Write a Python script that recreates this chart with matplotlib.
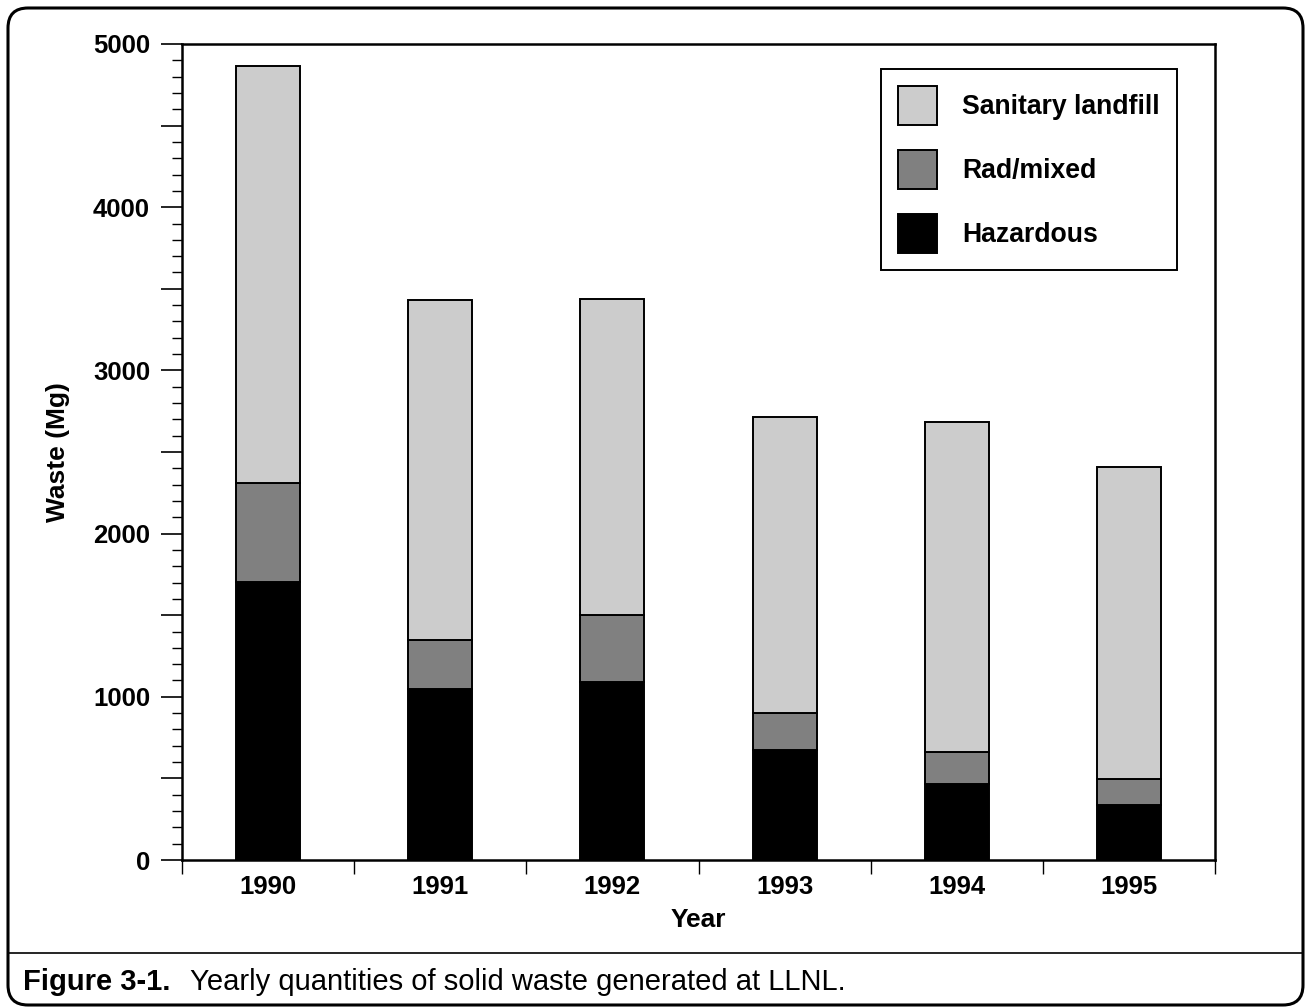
import numpy as np
import matplotlib
matplotlib.use("Agg")
import matplotlib.pyplot as plt
from matplotlib.patches import FancyBboxPatch, Patch
from matplotlib.ticker import FixedLocator, MultipleLocator

plt.rcParams['font.family'] = ['Liberation Sans', 'DejaVu Sans']

# data (Mg)
years = ['1990', '1991', '1992', '1993', '1994', '1995']
hazardous = [1705, 1045, 1090, 675, 465, 335]
rad_mixed = [605, 305, 410, 225, 195, 160]
sanitary = [2555, 2080, 1940, 1815, 2025, 1915]

W, H = 1311, 1007
fig = plt.figure(figsize=(W / 100, H / 100), dpi=100)

# background frame in pixel units
bg = fig.add_axes([0, 0, 1, 1])
bg.set_xlim(0, W)
bg.set_ylim(H, 0)
bg.axis('off')
bg.add_patch(FancyBboxPatch((8, 8), W - 16, H - 10,
                            boxstyle="round,pad=0,rounding_size=20",
                            fc='white', ec='black', lw=2.2))
bg.plot([8, W - 8], [953, 953], color='black', lw=1.2)

ax = fig.add_axes([182 / W, 1 - 860 / H, (1215 - 182) / W, (860 - 44) / H])
ax.set_facecolor('none')

x = np.arange(len(years))
bw = 0.372
haz = np.array(hazardous)
rad = np.array(rad_mixed)
san = np.array(sanitary)
ax.bar(x, haz, bw, color='black', edgecolor='black', lw=1.4)
ax.bar(x, rad, bw, bottom=haz, color='#808080', edgecolor='black', lw=1.4)
ax.bar(x, san, bw, bottom=haz + rad, color='#cccccc', edgecolor='black', lw=1.4)

ax.set_xlim(-0.5, len(years) - 0.5)
ax.set_ylim(0, 5000)

for s in ax.spines.values():
    s.set_linewidth(1.8)

# x ticks: labels at centres, tick marks at boundaries
ax.set_xticks(x)
ax.set_xticklabels(years, fontsize=18.5, fontweight='bold')
ax.xaxis.set_minor_locator(FixedLocator(np.arange(-0.5, len(years), 1.0)))
ax.tick_params(axis='x', which='major', length=0, pad=11)
ax.tick_params(axis='x', which='minor', length=10, width=1, direction='out')

# y ticks
ymaj = np.arange(0, 5001, 500)
ax.yaxis.set_major_locator(FixedLocator(ymaj))
ax.set_yticklabels([str(v) if v % 1000 == 0 else '' for v in ymaj],
                   fontsize=18.5, fontweight='bold')
ax.yaxis.set_minor_locator(MultipleLocator(100))
ax.tick_params(axis='y', which='major', length=15, width=1.2, pad=8)
ax.tick_params(axis='y', which='minor', length=7.5, width=1)

ax.set_ylabel('Waste (Mg)', fontsize=19, fontweight='bold')
ax.yaxis.set_label_coords(-0.108, 0.5)
ax.set_xlabel('Year', fontsize=19, fontweight='bold')
ax.xaxis.set_label_coords(0.5, -0.0588)

handles = [Patch(fc='#cccccc', ec='black', lw=1.4, label='Sanitary landfill'),
           Patch(fc='#808080', ec='black', lw=1.4, label='Rad/mixed'),
           Patch(fc='black', ec='black', lw=1.4, label='Hazardous')]
leg = ax.legend(handles=handles, loc='upper right',
                bbox_to_anchor=(1177 / W, 1 - 69 / H), bbox_transform=fig.transFigure,
                prop={'size': 19.2, 'weight': 'bold'}, fancybox=False, shadow=False,
                handlelength=1.46, handleheight=1.87, labelspacing=0.94,
                handletextpad=0.94, borderpad=0.64, borderaxespad=0, framealpha=1)
leg.get_frame().set_edgecolor('black')
leg.get_frame().set_linewidth(1.4)

fig.text(23 / W, 1 - 990 / H, 'Figure 3-1.', fontsize=21, fontweight='bold',
         va='baseline', ha='left')
fig.text(190 / W, 1 - 990 / H, 'Yearly quantities of solid waste generated at LLNL.',
         fontsize=21, va='baseline', ha='left')

fig.savefig('out.png', dpi=100)
